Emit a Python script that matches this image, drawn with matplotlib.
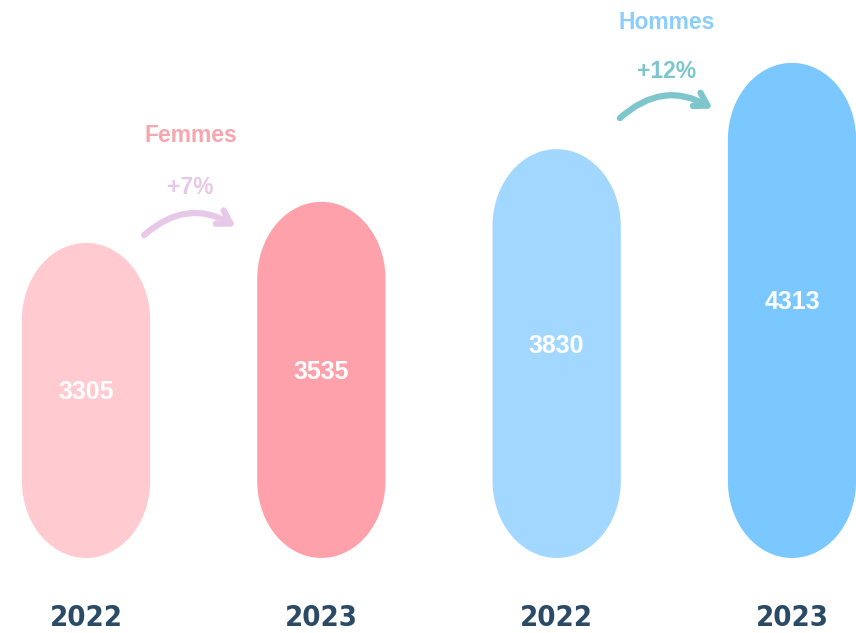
import matplotlib
matplotlib.use("Agg")
from matplotlib import pyplot as plt
from matplotlib.patches import Polygon, FancyArrowPatch
from matplotlib import transforms
import numpy as np

# data
years = ["2022", "2023", "2022", "2023"]
values = [3305, 3535, 3830, 4313]
bar_colors = ["#ffcbd0", "#ffa1ab", "#a2d7ff", "#7ac8ff"]
groups = ["Femmes", "Hommes"]
growth = ["+7%", "+12%"]

base = 1541          # value where the pills start
bar_w = 0.545        # in x units
cap_h = 431          # height of the rounded ends, in value units


def pill(xc, top):
    # outline of a pill: top half-ellipse, bottom half-ellipse
    t = np.linspace(0, np.pi, 60)
    top_x = xc + bar_w / 2 * np.cos(t)
    top_y = (top - cap_h) + cap_h * np.sin(t)
    bot_x = xc - bar_w / 2 * np.cos(t)
    bot_y = (base + cap_h) - cap_h * np.sin(t)
    return np.column_stack([np.r_[top_x, bot_x], np.r_[top_y, bot_y]])


fig = plt.figure(figsize=(8.56, 6.33), dpi=100)
ax = fig.add_axes([0, 0, 1, 1])
ax.set_xlim(-0.3655, 3.272)
ax.set_ylim(1121, 4665)
ax.axis("off")

for i, (v, c) in enumerate(zip(values, bar_colors)):
    ax.add_patch(Polygon(pill(i, v), closed=True, facecolor=c, edgecolor="none"))
    ax.text(i, (v + base) / 2 + 45, str(v), ha="center", va="center", color="white",
            fontsize=18, fontweight="bold", family=["Liberation Sans", "DejaVu Sans"])

# year labels under the bars
trans = transforms.blended_transform_factory(ax.transData, ax.transAxes)
for i, y in enumerate(years):
    ax.text(i, 0.002, y, transform=trans, ha="center", va="bottom", color="#2b4a66",
            fontsize=21, fontweight="bold", fontstretch="condensed",
            family=["DejaVu Sans"])

# group titles, growth labels and arrows
title_colors = ["#f7a6b0", "#8ccdfb"]
growth_colors = ["#e8c8e8", "#7cc6cc"]
title_pos = [(0.446, 3909), (2.469, 4537)]
growth_pos = [(0.442, 3613), (2.469, 4262)]
arrow_pos = [((0.238, 3338), (0.646, 3389)), ((2.26, 3993), (2.673, 4049))]

for k in range(2):
    ax.text(*title_pos[k], groups[k], ha="center", va="center", color=title_colors[k],
            fontsize=16.5, fontweight="bold", family=["Liberation Sans", "DejaVu Sans"])
    ax.text(*growth_pos[k], growth[k], ha="center", va="center", color=growth_colors[k],
            fontsize=16.5, fontweight="bold", family=["Liberation Sans", "DejaVu Sans"])
    arr = FancyArrowPatch(arrow_pos[k][0], arrow_pos[k][1],
                          connectionstyle="arc3,rad=-0.38",
                          arrowstyle="->,head_length=9,head_width=5.5",
                          color=growth_colors[k], lw=4.5,
                          capstyle="round", joinstyle="round")
    ax.add_patch(arr)

fig.savefig("out.png", dpi=100)
